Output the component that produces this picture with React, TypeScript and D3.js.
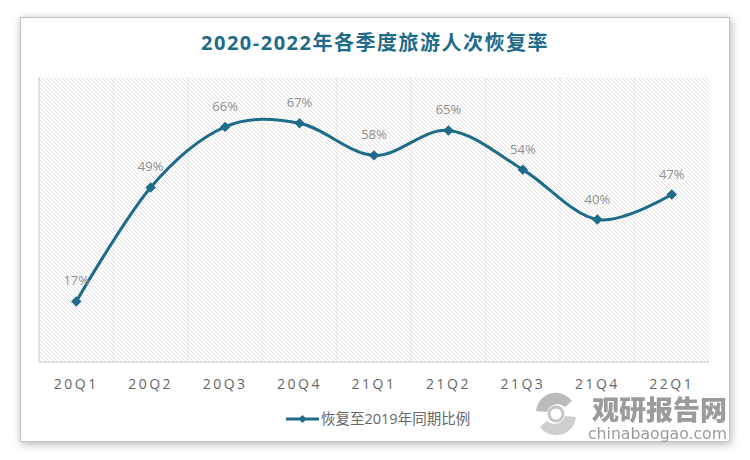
import React from "react";
import * as d3 from "d3";

const categories = ["20Q1", "20Q2", "20Q3", "20Q4", "21Q1", "21Q2", "21Q3", "21Q4", "22Q1"];
const values = [17, 49, 66, 67, 58, 65, 54, 40, 47];
const yDomain = [0, 80];
const title = "2020-2022年各季度旅游人次恢复率";
const seriesName = "恢复至2019年同期比例";

const W = 750, H = 460;
const plot = { left: 39, right: 709, top: 77, bottom: 362 };
const lineColor = "#1f6b8a";
const font = "'Open Sans', 'Noto Sans CJK SC', sans-serif";

export default function App() {
  const x = d3.scaleBand<string>().domain(categories).range([plot.left, plot.right]).padding(0);
  const y = d3.scaleLinear().domain(yDomain).range([plot.bottom, plot.top]);
  const cx = (c: string) => (x(c) as number) + x.bandwidth() / 2;
  const pts: [number, number][] = categories.map((c, i) => [cx(c), y(values[i])]);
  const line = d3.line().curve(d3.curveCatmullRom.alpha(0))(pts) as string;
  const diamond = d3.symbol().type(d3.symbolDiamond2).size(70)() as string;
  const diamondSmall = d3.symbol().type(d3.symbolDiamond2).size(40)() as string;

  return (
    <svg width={W} height={H} style={{ position: "fixed", left: 0, top: 0, background: "#fff" }}>
      <defs>
        <filter id="shadow" x="-10%" y="-10%" width="120%" height="120%">
          <feDropShadow dx="1" dy="2" stdDeviation="4" floodColor="#000" floodOpacity="0.3" />
        </filter>
        <pattern id="hatch" width="4" height="4" patternUnits="userSpaceOnUse">
          <rect width="4" height="4" fill="#fff" />
          <path d="M-1,-1 L5,5 M-1,3 L1,5 M3,-1 L5,1" stroke="#e0e0e0" strokeWidth="1" />
        </pattern>
      </defs>
      <rect x={0} y={0} width={W} height={H} fill="#fff" />
      <rect x={20.5} y={17.5} width={709} height={424} fill="#fff" stroke="#c4c4c4" strokeWidth={1} filter="url(#shadow)" />
      <text x={375} y={50} textAnchor="middle" fontFamily={font} fontWeight="bold" fontSize={20}
        letterSpacing={1.5} fill="#1f6b8a">{title}</text>

      <rect x={plot.left} y={plot.top} width={plot.right - plot.left} height={plot.bottom - plot.top} fill="url(#hatch)" />
      {categories.slice(1).map(c => (
        <line key={c} x1={(x(c) as number)} x2={(x(c) as number)} y1={plot.top} y2={plot.bottom} stroke="#e8e8e8" strokeWidth={1} />
      ))}
      <line x1={plot.left} x2={plot.left} y1={plot.top} y2={plot.bottom} stroke="#d9d9d9" strokeWidth={1.5} />
      <line x1={plot.left} x2={plot.right} y1={plot.bottom} y2={plot.bottom} stroke="#d9d9d9" strokeWidth={1.5} />

      <path d={line} fill="none" stroke={lineColor} strokeWidth={3} />
      {pts.map((p, i) => (
        <path key={i} d={diamond} transform={`translate(${p[0]},${p[1]})`} fill={lineColor} />
      ))}
      {pts.map((p, i) => (
        <text key={"l" + i} x={p[0]} y={p[1] - 16} textAnchor="middle" fontFamily={font} fontSize={13} fill="#8f8f8f">
          {values[i]}%
        </text>
      ))}
      {categories.map(c => (
        <text key={"x" + c} x={cx(c)} y={389} textAnchor="middle" fontFamily={font} fontSize={14} letterSpacing={2.5} fill="#666">
          {c}
        </text>
      ))}

      <line x1={286} x2={319} y1={419} y2={419} stroke={lineColor} strokeWidth={3} />
      <path d={diamondSmall} transform="translate(302.5,419)" fill={lineColor} />
      <text x={321} y={424} fontFamily={font} fontSize={14.5} fill="#666">{seriesName}</text>

      <g opacity={0.85}>
        <g transform="translate(556,414)">
          <path d="M-20,-3 A20,20 0 0 1 16,-13 L9,-7 A11,11 0 0 0 -9,-2 Z" fill="#b0b0b0" />
          <path d="M20,3 A20,20 0 0 1 -16,13 L-9,7 A11,11 0 0 0 9,2 Z" fill="#c6c6c6" />
          <path d="M-7,0 A7,7 0 0 1 7,0 A7,7 0 0 1 -7,0" fill="none" stroke="#bcbcbc" strokeWidth={3} />
        </g>
        <text x={727} y={420} textAnchor="end" fontFamily="'Noto Sans CJK SC', sans-serif" fontWeight="900" fontSize={27} fill="#8a8a8a">观研报告网</text>
        <text x={588} y={439} textLength={139} lengthAdjust="spacingAndGlyphs" fontFamily="'DejaVu Sans', sans-serif" fontSize={15} fill="#8a8a8a">chinabaogao.com</text>
      </g>
    </svg>
  );
}
